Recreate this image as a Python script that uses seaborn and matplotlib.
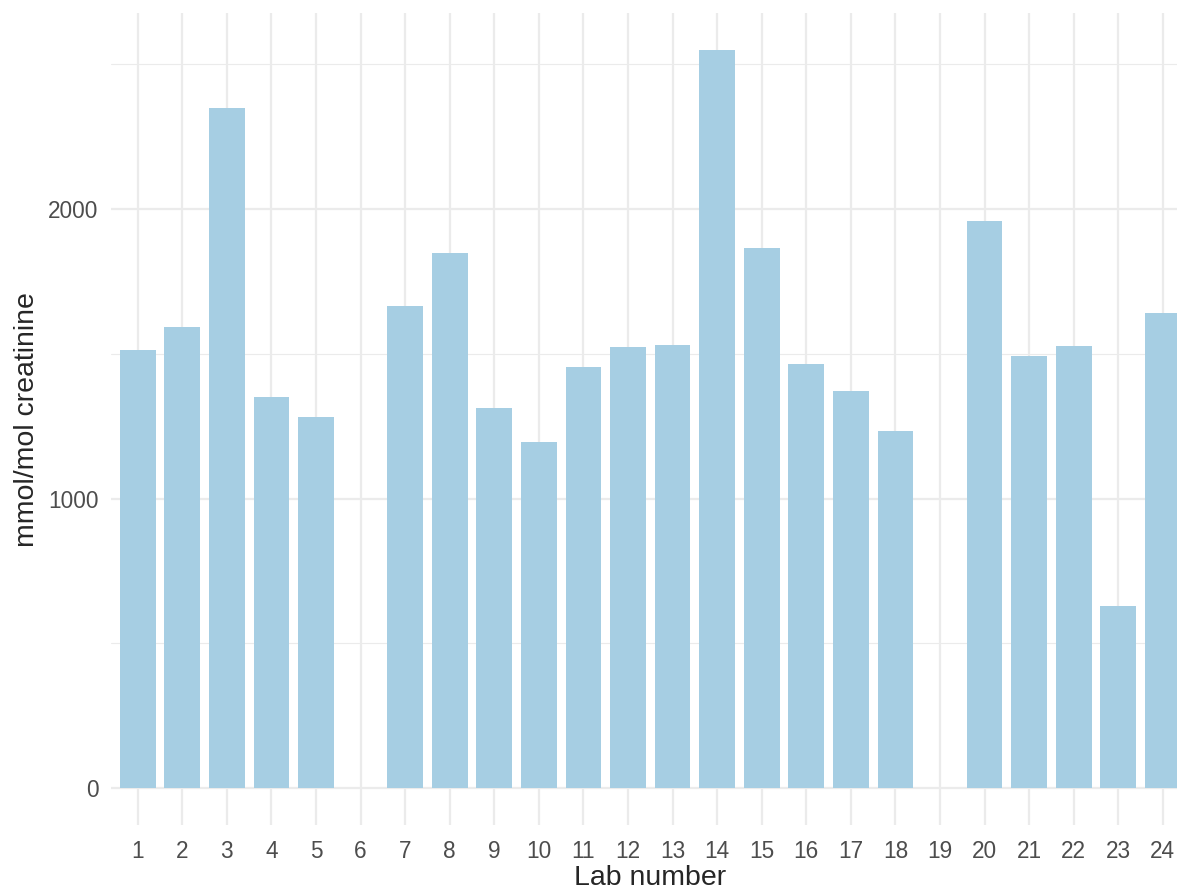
import pandas as pd
import numpy as np
import matplotlib.pyplot as plt
import seaborn as sns

# values (labs 6 and 19 have no result)
labs = [str(i) for i in range(1, 25)]
values = [1513, 1592, 2349, 1351, 1282, np.nan, 1665, 1848, 1313, 1195,
          1454, 1523, 1530, 2549, 1865, 1465, 1371, 1233, np.nan, 1959,
          1492, 1527, 629, 1641]
major_ticks = [0, 1000, 2000]
minor_ticks = [500, 1500, 2500]

df = pd.DataFrame({'lab': labs, 'value': values})

sns.set_style('white')
plt.rcParams['font.family'] = ['Liberation Sans', 'DejaVu Sans']

fig = plt.figure(figsize=(11.77, 8.9), dpi=100)
ax = fig.add_axes([0.0943, 0.073, 0.9164, 0.912])

sns.barplot(data=df, x='lab', y='value', order=labs, color='#A6CEE3',
            saturation=1, width=0.8, errorbar=None, linewidth=0,
            ax=ax, zorder=3)

ax.set_xlim(-0.6, 23.6)
ax.set_ylim(-127.5, 2676)
ax.set_yticks(major_ticks)
ax.set_yticks(minor_ticks, minor=True)
ax.grid(True, which='major', color='#EBEBEB', linewidth=1.6, zorder=0)
ax.grid(True, which='minor', axis='y', color='#EBEBEB', linewidth=0.8, zorder=0)
ax.set_axisbelow(True)
for s in ax.spines.values():
    s.set_visible(False)

ax.tick_params(axis='both', which='both', length=0, labelsize=16.3,
               labelcolor='#4D4D4D')
ax.tick_params(axis='x', pad=11)
ax.tick_params(axis='y', pad=9)
ax.set_xlabel('Lab number', fontsize=20.5, labelpad=1)
ax.set_ylabel('mmol/mol creatinine', fontsize=20.5, labelpad=6)

fig.savefig('out.png', dpi=100)
